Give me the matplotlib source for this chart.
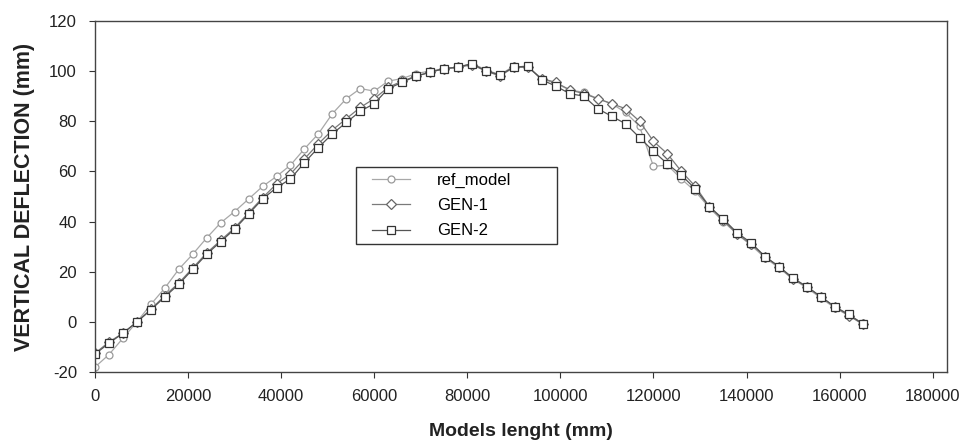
import matplotlib
matplotlib.use("Agg")
import numpy as np
import matplotlib.pyplot as plt
from matplotlib.patches import Rectangle

plt.rcParams['font.family'] = ['Liberation Sans', 'DejaVu Sans']
plt.rcParams['axes.unicode_minus'] = False

# positions along the model (mm), one point every 3000 mm
length_mm = list(range(0, 165001, 3000))

ref_model = [-18, -13, -6.5, 0, 7, 13.5, 21, 27, 33.5, 39.5, 44, 49,
             54, 58, 62.5, 69, 75, 83, 89, 93, 92, 96, 97, 99,
             100, 101, 101.5, 103, 100.5, 98.5, 102, 101.5, 97, 95, 92.5, 91.5,
             89, 87, 83.5, 78, 62, 62.5, 57, 52, 45.5, 40, 35, 30.5,
             25.5, 21.5, 17, 13.5, 9.5, 5.5, 2.5, -0.5]

gen1 = [-12.5, -8, -4.5, 0, 5, 10.5, 15.5, 21.5, 27.5, 32.5, 37.5, 43.5,
        49.5, 55, 59, 65, 71, 76.5, 81, 85.5, 89, 93.5, 96, 98,
        99.5, 101, 101.5, 102.5, 100, 98, 101.5, 101.5, 97, 95.5, 92.5, 91,
        89, 87, 85, 80, 72, 67, 60, 54, 46, 40.5, 35, 31,
        26, 22, 17, 14, 10, 6, 2.5, -1]

gen2 = [-12.8, -8.5, -4.5, 0, 4.8, 10, 15, 21, 27, 32, 37, 43,
        49, 53.5, 57, 63.5, 69.5, 75, 79.5, 84, 87, 93, 95.5, 98,
        99.5, 101, 101.5, 103, 100, 98.5, 101.5, 102, 96.5, 94, 91, 90,
        85, 82, 79, 73.5, 68, 63, 58.5, 53, 46, 41, 35.5, 31.5,
        26, 22, 17.5, 14, 10, 6, 3, -0.8]

fig = plt.figure(figsize=(9.63, 4.44), dpi=100)
ax = fig.add_axes([0.0987, 0.162, 0.8843, 0.791])

ax.plot(length_mm, ref_model, '-o', color='#a8a8a8', lw=0.9, ms=5,
        mfc='white', mec='#9a9a9a', mew=0.9, label='ref_model')
ax.plot(length_mm, gen1, '-D', color='#7a7a7a', lw=0.9, ms=5,
        mfc='white', mec='#666666', mew=0.9, label='GEN-1')
ax.plot(length_mm, gen2, '-s', color='#555555', lw=0.9, ms=5.5,
        mfc='white', mec='#333333', mew=0.9, label='GEN-2')

ax.set_xlim(0, 183000)
ax.set_ylim(-20, 120)
ax.set_xticks(np.arange(0, 180001, 20000))
ax.set_yticks(np.arange(-20, 121, 20))
ax.tick_params(direction='out', length=4, width=0.8, labelsize=12,
               colors='#333333', labelcolor='#222222')
ax.tick_params(axis='x', pad=8)
ax.tick_params(axis='y', pad=9)
for s in ax.spines.values():
    s.set_color('#444444')
    s.set_linewidth(1.0)

ax.set_xlabel("Models lenght (mm)", fontsize=14, fontweight='bold',
              color='#222222', labelpad=14)
ax.set_ylabel("VERTICAL DEFLECTION (mm)", fontsize=15.5, fontweight='bold',
              color='#222222', labelpad=10)

# legend frame drawn separately, Excel-like wide box
ax.add_patch(Rectangle((0.306, 0.365), 0.237, 0.219, transform=ax.transAxes,
                       facecolor='white', edgecolor='#333333', lw=1.0,
                       zorder=4))
leg = ax.legend(loc='upper left', bbox_to_anchor=(0.325, 0.568),
                borderaxespad=0, borderpad=0, fontsize=12, frameon=False,
                handlelength=2.3, labelspacing=0.62, handletextpad=1.6)
leg.set_zorder(5)

fig.savefig("out.png", dpi=100)
